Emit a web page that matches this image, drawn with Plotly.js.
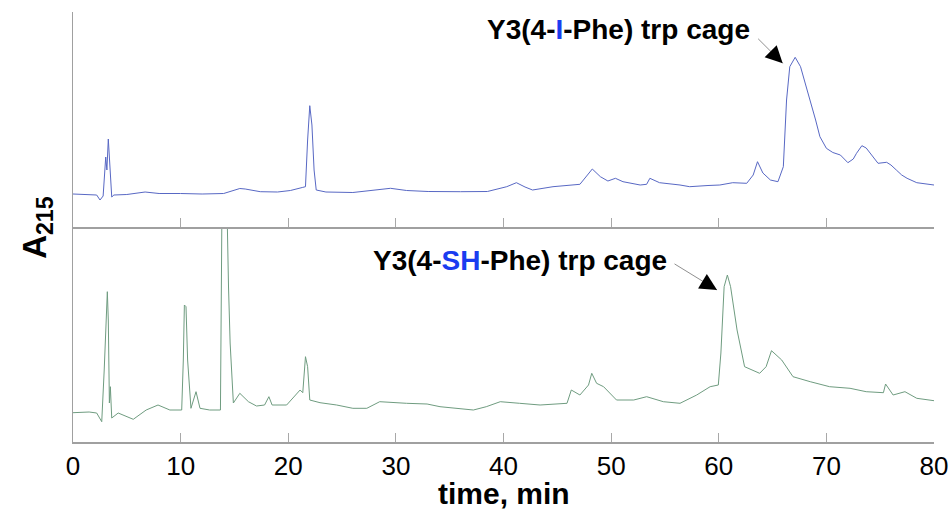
<!DOCTYPE html>
<html>
<head>
<meta charset="utf-8">
<script src="https://cdn.plot.ly/plotly-3.0.1.min.js"></script>
<style>html,body{margin:0;padding:0;background:#fff;}#chart{width:952px;height:512px;}</style>
</head>
<body>
<div id="chart"></div>
<script>
// Top chromatogram: Y3(4-I-Phe) trp cage (time in min, A215 arbitrary units)
var timeTop = [0,1.5,2.2,2.51,2.8,3.04,3.15,3.28,3.38,3.44,3.6,3.8,5,6.7,8,10,12,14,15.5,16,17.4,19,20.2,21.3,21.6,21.8,22.0,22.2,22.4,22.6,23.5,26,28.5,29.5,31,33,36,38.5,40.3,41.2,42,42.7,44.6,46,47.1,47.8,48.25,49,49.7,50.4,51.1,52.7,53.3,53.6,54.5,56.4,57.3,59,60.1,61.3,62.6,63.2,63.6,64.1,64.8,65.5,66.0,66.3,66.6,67.1,67.6,68.0,68.5,69.0,69.4,70.0,70.6,71.3,72.0,72.5,72.8,73.3,73.7,74.1,74.8,75.6,76.0,76.5,77.0,77.5,78.4,80];
var absTop = [33,32.5,32,27,31,70,57,88,67,52,30,32,32.5,35,33.5,33.5,33,33.5,38.5,38,35.3,35,36.5,39.5,40.3,87,121.3,102,57,37,35,34.5,37,38.7,36.5,35.5,35.3,35.5,40.3,44.3,40,37,40.3,41.5,42.7,52,58,50.3,46,48.7,45.3,42,42.7,48.7,44.3,42,40.3,41.5,42,44.3,43.7,52,65.3,54,47,45.3,60.3,127,160.3,169.7,160.3,145,127,107,90.3,78.7,74.5,72,64.3,68,73.7,81.3,79,73.7,63.7,64.7,62,57,52,48.7,44.3,42];

// Bottom chromatogram: Y3(4-SH-Phe) trp cage
var timeBot = [0,1.5,2.2,2.67,2.9,3.05,3.19,3.28,3.38,3.47,3.6,4.2,5.0,5.6,6.8,7.9,9.0,10.1,10.25,10.35,10.5,10.65,10.96,11.2,11.43,11.8,12.7,13.7,13.85,14.05,14.3,14.45,14.6,14.9,15.5,16.3,17.05,17.8,18.2,18.5,19.85,21.1,21.35,21.6,21.8,22.0,22.95,24.5,26.0,27.3,28.5,31,32.9,34.1,37.2,38.4,39.7,41.5,43.4,45.9,46.3,47.1,47.9,48.2,48.65,49.3,50.5,52.1,53.3,54.85,56.4,57.95,59.2,59.96,60.2,60.5,60.8,61.1,61.7,62.4,63.8,64.4,64.9,65.85,66.9,68.5,70.3,72.2,73.7,75.3,75.5,76.2,77.3,78.4,80];
var absBot = [29.3,30,29,20.3,72,112,150.3,122,39,55.3,24,29,25.3,22.7,32,37,32,32,82,137,135.3,82,33.7,42,50.3,33.7,32,32,250,320,240,155,99,39,48.7,40.3,36,37,45.3,37,37,52,49.3,85.3,75.3,42,39.3,37,33.7,33.7,40.3,38.7,38,35.3,32,35.3,40.3,38.7,37,38.7,52,47,57,68.7,58.7,55.3,42,42,45.3,40.3,38.7,47,55.3,57,89,155.3,167,155.3,112,75.3,68.7,75.3,91.3,82,65.3,60.3,55.3,53.7,50.3,49.3,58,47,50.3,43.7,41.3];

var xTicks = [0,10,20,30,40,50,60,70,80];
var labelTop = 'Y3(4-<span style="color:#1a3cf0">I</span>-Phe) trp cage';
var labelBot = 'Y3(4-<span style="color:#1a3cf0">SH</span>-Phe) trp cage';

var traces = [
  {x: timeTop, y: absTop, xaxis: 'x2', yaxis: 'y2', mode: 'lines', line: {color: '#5868c4', width: 1}, hoverinfo: 'x+y'},
  {x: timeBot, y: absBot, xaxis: 'x', yaxis: 'y', mode: 'lines', line: {color: '#6f9c80', width: 1}, hoverinfo: 'x+y'}
];

var axisCommon = {
  range: [0, 80], tickvals: xTicks, ticks: 'inside', ticklen: 9, tickwidth: 1.2,
  tickcolor: '#a8a8a8', showline: true, linecolor: '#a0a0a0', linewidth: 1.5,
  showgrid: false, zeroline: false
};

var layout = {
  width: 952, height: 512,
  margin: {l: 73, r: 18, t: 12, b: 70},
  paper_bgcolor: '#ffffff', plot_bgcolor: '#ffffff',
  showlegend: false,
  font: {family: 'Liberation Sans, Arial, sans-serif', color: '#000'},
  xaxis: Object.assign({}, axisCommon, {
    domain: [0, 1], anchor: 'y', showticklabels: true,
    tickfont: {size: 26, family: 'Liberation Sans, Arial, sans-serif', color: '#000'}
  }),
  xaxis2: Object.assign({}, axisCommon, {domain: [0, 1], anchor: 'y2', showticklabels: false}),
  yaxis: {domain: [0, 0.5], range: [0, 215], showticklabels: false, ticks: '', showline: true, linecolor: '#a0a0a0', linewidth: 1.5, showgrid: false, zeroline: false},
  yaxis2: {domain: [0.5, 1], range: [0, 215], showticklabels: false, ticks: '', showline: true, linecolor: '#a0a0a0', linewidth: 1.5, showgrid: false, zeroline: false},
  annotations: [
    {xref: 'paper', yref: 'paper', x: -0.042, y: 0.5, text: '<b>A<sub>215</sub></b>', textangle: -90, showarrow: false, font: {size: 33, color: '#000'}, xanchor: 'center', yanchor: 'middle'},
    {xref: 'paper', yref: 'paper', x: 0.5, y: -0.119, text: '<b>time, min</b>', showarrow: false, font: {size: 30, color: '#000'}, xanchor: 'center', yanchor: 'middle', borderpad: 0},
    // top label
    {xref: 'x2', yref: 'y2', x: 50.64, y: 198, text: '<b>' + labelTop + '</b>', showarrow: false, font: {size: 28, color: '#000'}, xanchor: 'center', yanchor: 'middle'},
    {xref: 'x2', yref: 'y2', x: 65.94, y: 163.7, text: '', showarrow: true, arrowhead: 0, arrowwidth: 1, arrowcolor: '#909090', ax: -26, ay: -26, standoff: 0},
    {xref: 'x2', yref: 'y2', x: 65.94, y: 163.7, text: '', showarrow: true, arrowhead: 2, arrowsize: 3.4, arrowwidth: 1, arrowcolor: '#000', ax: -8, ay: -8, standoff: 0},
    // bottom label
    {xref: 'x', yref: 'y', x: 41.53, y: 182, text: '<b>' + labelBot + '</b>', showarrow: false, font: {size: 28, color: '#000'}, xanchor: 'center', yanchor: 'middle'},
    {xref: 'x', yref: 'y', x: 59.84, y: 152, text: '', showarrow: true, arrowhead: 0, arrowwidth: 1, arrowcolor: '#909090', ax: -44, ay: -27, standoff: 0},
    {xref: 'x', yref: 'y', x: 59.84, y: 152, text: '', showarrow: true, arrowhead: 2, arrowsize: 3.4, arrowwidth: 1, arrowcolor: '#000', ax: -10, ay: -6, standoff: 0}
  ]
};

Plotly.newPlot('chart', traces, layout, {staticPlot: true, displayModeBar: false});
</script>
</body>
</html>
